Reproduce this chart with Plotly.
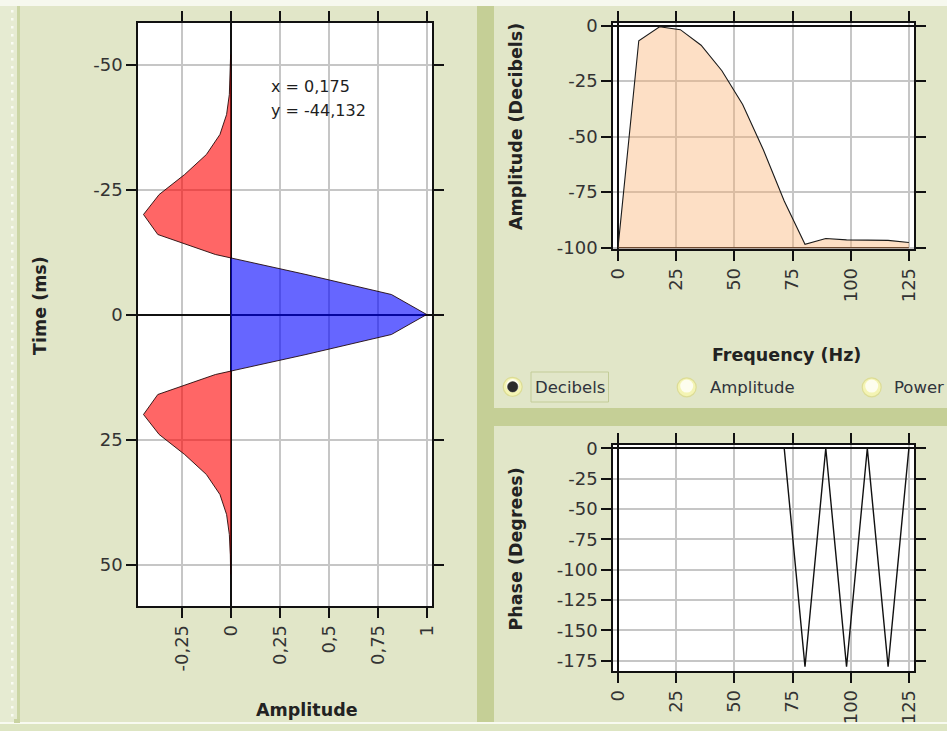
import numpy as np
import plotly.graph_objects as go

W, H = 947, 731

# ---- Ricker wavelet, 4 ms sampling -------------------------------------
TIME_MS = [-52, -48, -44, -40, -36, -32, -28, -24, -20, -16, -12, -8, -4, 0,
           4, 8, 12, 16, 20, 24, 28, 32, 36, 40, 44, 48, 52]
AMPLITUDE = [-0.0004, -0.002, -0.007, -0.021, -0.055, -0.124, -0.235, -0.365,
             -0.445, -0.372, -0.078, 0.384, 0.82, 1.0, 0.82, 0.384, -0.078,
             -0.372, -0.445, -0.365, -0.235, -0.124, -0.055, -0.021, -0.007,
             -0.002, -0.0004]

AMP_TICKS = [-0.25, 0, 0.25, 0.5, 0.75, 1]
AMP_TICK_TEXT = ["-0,25", "0", "0,25", "0,5", "0,75", "1"]
TIME_TICKS = [-50, -25, 0, 25, 50]
TIME_TICK_TEXT = ["-50", "-25", "0", "25", "50"]

# ---- spectrum ------------------------------------------------------------
FREQ_HZ = [0, 8.93, 17.86, 26.79, 35.71, 44.64, 53.57, 62.5, 71.43, 80.36,
           89.29, 98.21, 107.14, 116.07, 125.0]
AMP_DB = [-100, -6.8, -0.5, -1.8, -8.8, -20.3, -35.5, -56.0, -79.0, -98.5,
          -95.9, -96.5, -96.6, -96.7, -97.7]
DB_FLOOR = -100
PHASE_DEG = [0, 0, 0, 0, 0, 0, 0, 0, 0, -180, 0, -180, 0, -180, 0]

FREQ_TICKS = [0, 25, 50, 75, 100, 125]
FREQ_TICK_TEXT = ["0", "25", "50", "75", "100", "125"]
DB_TICKS = [0, -25, -50, -75, -100]
DB_TICK_TEXT = ["0", "-25", "-50", "-75", "-100"]
PHASE_TICKS = [0, -25, -50, -75, -100, -125, -150, -175]
PHASE_TICK_TEXT = ["0", "-25", "-50", "-75", "-100", "-125", "-150", "-175"]

CURSOR_TEXT = ["x = 0,175", "y = -44,132"]
RADIO_LABELS = ["Decibels", "Amplitude", "Power"]


def fx(px):
    return px / W


def fy(py):
    return 1 - py / H


# split the wavelet into positive / negative lobes at its zero crossings
t = np.array(TIME_MS, float)
a = np.array(AMPLITUDE, float)
tt, aa = [t[0]], [a[0]]
for i in range(1, len(t)):
    if a[i - 1] * a[i] < 0:
        tc = t[i - 1] + (t[i] - t[i - 1]) * a[i - 1] / (a[i - 1] - a[i])
        tt.append(tc)
        aa.append(0.0)
    tt.append(t[i])
    aa.append(a[i])
aa = np.array(aa)
pos = np.maximum(aa, 0)
neg = np.minimum(aa, 0)

fig = go.Figure()

fig.add_trace(go.Scatter(x=neg, y=tt, mode="lines", fill="tozerox",
                         fillcolor="rgba(255,0,0,0.6)", line=dict(width=0),
                         xaxis="x", yaxis="y", hoverinfo="skip"))
fig.add_trace(go.Scatter(x=pos, y=tt, mode="lines", fill="tozerox",
                         fillcolor="rgba(0,0,255,0.6)", line=dict(width=0),
                         xaxis="x", yaxis="y", hoverinfo="skip"))
fig.add_trace(go.Scatter(x=AMPLITUDE, y=TIME_MS, mode="lines",
                         line=dict(color="rgba(25,0,0,0.85)", width=1),
                         xaxis="x", yaxis="y"))

# amplitude spectrum (dB), filled down to the floor
fig.add_trace(go.Scatter(x=FREQ_HZ, y=[DB_FLOOR] * len(FREQ_HZ), mode="lines",
                         line=dict(color="#6e4a30", width=1.2),
                         xaxis="x2", yaxis="y2", hoverinfo="skip"))
fig.add_trace(go.Scatter(x=FREQ_HZ, y=AMP_DB, mode="lines", fill="tonexty",
                         fillcolor="rgba(250,175,110,0.4)",
                         line=dict(color="#1a1a1a", width=1.1),
                         xaxis="x2", yaxis="y2"))

# phase spectrum
fig.add_trace(go.Scatter(x=FREQ_HZ, y=PHASE_DEG, mode="lines",
                         line=dict(color="#111111", width=1.4),
                         xaxis="x3", yaxis="y3"))

TICK_FONT = dict(family="DejaVu Sans", size=18, color="#333333")
TITLE_FONT = dict(family="DejaVu Sans", size=17.5, color="#222222", weight="bold")


def axis(domain, rng, tickvals, ticktext, anchor, angle=0):
    return dict(domain=domain, range=rng, tickmode="array", tickvals=tickvals,
                ticktext=ticktext, tickangle=angle, anchor=anchor,
                ticks="outside", ticklen=10, tickwidth=1.5, tickcolor="#111",
                showline=True, linecolor="#111", linewidth=1.5, mirror="ticks",
                showgrid=True, gridcolor="#c6c6c6", gridwidth=1.5,
                zeroline=True, zerolinecolor="#111", zerolinewidth=1.5,
                tickfont=TICK_FONT, fixedrange=True, automargin=False)


layout = dict(
    width=W, height=H, margin=dict(l=0, r=0, t=0, b=0),
    paper_bgcolor="#e1e6c8", plot_bgcolor="#ffffff", showlegend=False,
    xaxis=axis([fx(138), fx(432)], [-0.473, 1.027], AMP_TICKS, AMP_TICK_TEXT, "y", -90),
    yaxis=axis([fy(606), fy(23)], [58.3, -58.3], TIME_TICKS, TIME_TICK_TEXT, "x"),
    xaxis2=axis([fx(613), fx(914)], [-2.15, 127.2], FREQ_TICKS, FREQ_TICK_TEXT, "y2", -90),
    yaxis2=axis([fy(249), fy(23)], [-100.6, 1.2], DB_TICKS, DB_TICK_TEXT, "x2"),
    xaxis3=axis([fx(613), fx(914)], [-2.15, 127.2], FREQ_TICKS, FREQ_TICK_TEXT, "y3", -90),
    yaxis3=axis([fy(671), fy(445)], [-183.5, 2.7], PHASE_TICKS, PHASE_TICK_TEXT, "x3"),
)
fig.update_layout(**layout)


def rect(x0, y0, x1, y1, color, layer="below", line=None):
    return dict(type="rect", xref="paper", yref="paper",
                x0=fx(x0), x1=fx(x1), y0=fy(y1), y1=fy(y0),
                fillcolor=color, line=line or dict(width=0), layer=layer)


def circle(cx, cy, r, fill, line_color, lw=1):
    return dict(type="circle", xref="paper", yref="paper",
                x0=fx(cx - r), x1=fx(cx + r), y0=fy(cy + r), y1=fy(cy - r),
                fillcolor=fill, line=dict(color=line_color, width=lw), layer="above")


shapes = [
    rect(0, 0, W, 6, "#f6f8ee"),                 # top highlight
    rect(0, 6, 17, 722, "#e6ebd2"),              # left handle strip
    rect(17, 6, 20, 722, "#cbd5a5"),
    rect(477, 6, 494, 722, "#c5cf96"),           # vertical splitter
    rect(494, 408, W, 426, "#c5cf96"),           # horizontal splitter
    rect(0, 722, W, 724, "#f8faf0"),
    rect(0, 724, W, H, "#dde5c2"),
    rect(14, 719, 20, 723, "#c9d3a2"),
]
for yy in range(10, 718, 8):
    shapes.append(rect(11, yy, 13.5, yy + 2.5, "#f9fbf2"))

# radio buttons: yellow rim, pale centre
for cx, cy in [(512.7, 386.8), (686.7, 387.3), (871.7, 387.3)]:
    shapes.append(circle(cx, cy, 9.5, "#f4f4b4", "#dcdc96", 1.2))
    shapes.append(circle(cx, cy - 1.2, 6.5, "#fdfdee", "rgba(0,0,0,0)", 0))
shapes.append(circle(512.7, 386.8, 5.2, "#2c2c2c", "#2c2c2c", 0.5))
shapes.append(rect(531, 372, 608.5, 402, "rgba(0,0,0,0)", layer="above",
                   line=dict(color="#c3cc98", width=1)))
fig.update_layout(shapes=shapes)


def label(text, x, y, font, angle=0, xanchor="center"):
    return dict(text=text, x=fx(x), y=fy(y), xref="paper", yref="paper",
                xanchor=xanchor, yanchor="middle", showarrow=False,
                textangle=angle, font=font)


CURSOR_FONT = dict(family="DejaVu Sans", size=16, color="#1e1e1e")
RADIO_FONT = dict(family="DejaVu Sans", size=16.5, color="#30343c")

annotations = [
    label("Time (ms)", 40, 306, TITLE_FONT, -90),
    label("Amplitude", 307, 710, TITLE_FONT),
    label("Amplitude (Decibels)", 515.5, 126.5, TITLE_FONT, -90),
    label("Frequency (Hz)", 786, 355, TITLE_FONT),
    label("Phase (Degrees)", 515.5, 549, TITLE_FONT, -90),
    label(CURSOR_TEXT[0], 269, 87, CURSOR_FONT, xanchor="left"),
    label(CURSOR_TEXT[1], 269, 110, CURSOR_FONT, xanchor="left"),
    label(RADIO_LABELS[0], 532.5, 387.5, RADIO_FONT, xanchor="left"),
    label(RADIO_LABELS[1], 707.5, 387.5, RADIO_FONT, xanchor="left"),
    label(RADIO_LABELS[2], 891.5, 387.5, RADIO_FONT, xanchor="left"),
]
fig.update_layout(annotations=annotations)

fig.write_html("out.html", config={"displayModeBar": False})
